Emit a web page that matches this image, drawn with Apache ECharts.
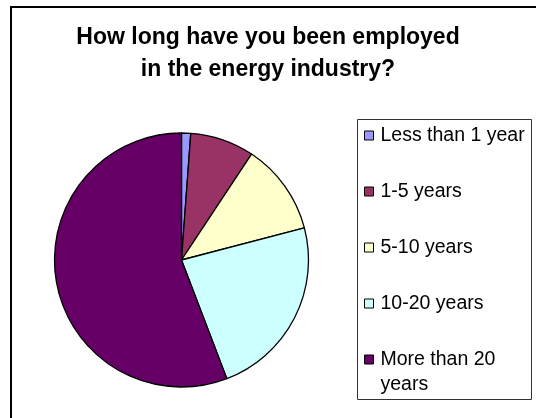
<!DOCTYPE html>
<html>
<head>
<meta charset="utf-8">
<script src="https://cdn.jsdelivr.net/npm/echarts@6/dist/echarts.min.js"></script>
<style>
  html, body { margin: 0; padding: 0; background: #fff; }
  #main { width: 536px; height: 418px; }
</style>
</head>
<body>
<div id="main"></div>
<script>
var titleLines = ["How long have you been employed", "in the energy industry?"];
var categories = ["Less than 1 year", "1-5 years", "5-10 years", "10-20 years", "More than 20 years"];
var counts = [1, 7, 10, 20, 48];
var colors = ["#9999FF", "#993366", "#FFFFCC", "#CCFFFF", "#660066"];

var font = '"Liberation Sans", Arial, sans-serif';
var myChart = echarts.init(document.getElementById("main"), null, { renderer: "canvas" });

var pieData = categories.map(function (name, i) {
  return { name: name, value: counts[i], itemStyle: { color: colors[i] } };
});

// shared legend look, the last entry wraps so it gets its own legend
var legendBase = {
  orient: "vertical",
  left: 364,
  icon: "rect",
  itemWidth: 9,
  itemHeight: 9,
  padding: 0,
  selectedMode: false,
  itemStyle: { borderColor: "#000", borderWidth: 1 },
  textStyle: { fontFamily: font, fontSize: 19.5, color: "#000", lineHeight: 25, padding: [0, 0, 0, 2] }
};

myChart.setOption({
  animation: false,
  title: {
    text: titleLines.join("\n"),
    left: "center",
    top: 22,
    padding: 0,
    textStyle: { fontFamily: font, fontSize: 23, fontWeight: "bold", color: "#000", lineHeight: 32 }
  },
  legend: [
    Object.assign({}, legendBase, {
      top: 123,
      itemGap: 31,
      data: categories.slice(0, 4)
    }),
    Object.assign({}, legendBase, {
      top: 322,
      data: categories.slice(4),
      // empty first line keeps the marker level with "More than 20"
      formatter: function (name) {
        return "\n" + name.replace("than 20 ", "than 20\n");
      }
    })
  ],
  graphic: [
    {
      type: "rect",
      shape: { x: 11, y: 7, width: 560, height: 440 },
      style: { fill: null, stroke: "#000", lineWidth: 2 },
      silent: true
    },
    {
      type: "rect",
      shape: { x: 357.5, y: 119.5, width: 174, height: 280 },
      style: { fill: null, stroke: "#333", lineWidth: 1 },
      silent: true
    }
  ],
  series: [
    {
      type: "pie",
      center: [181.5, 260],
      radius: 127,
      startAngle: 90,
      clockwise: true,
      label: { show: false },
      labelLine: { show: false },
      emphasis: { disabled: true },
      itemStyle: { borderColor: "#000", borderWidth: 1.3 },
      data: pieData
    }
  ]
});
</script>
</body>
</html>
